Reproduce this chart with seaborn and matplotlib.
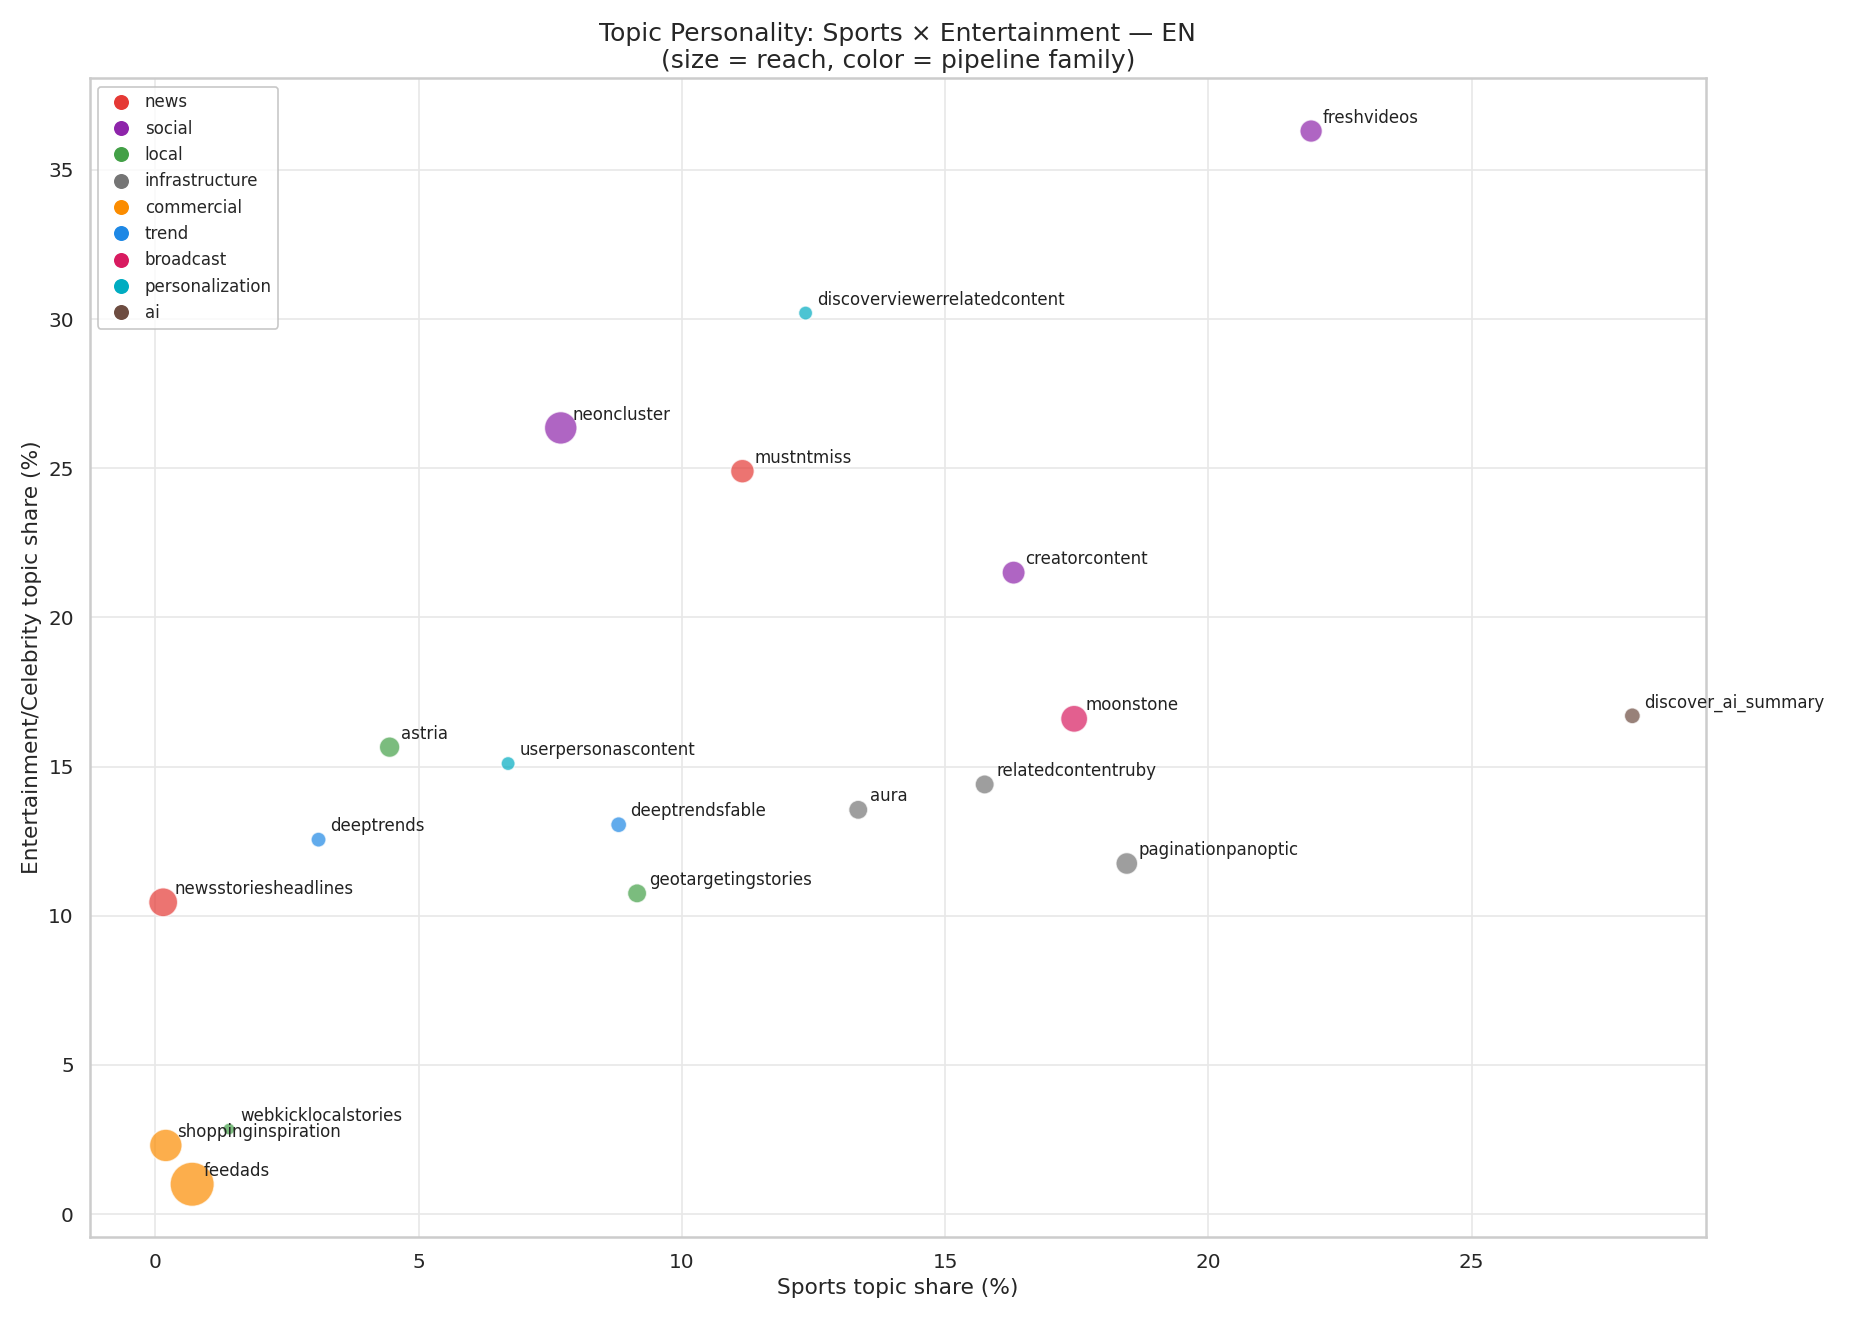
import matplotlib
matplotlib.use("Agg")
import matplotlib.pyplot as plt
import seaborn as sns
import pandas as pd
from matplotlib.lines import Line2D

names = ["freshvideos", "discoverviewerrelatedcontent", "neoncluster", "mustntmiss",
         "creatorcontent", "moonstone", "discover_ai_summary", "relatedcontentruby",
         "aura", "paginationpanoptic", "astria", "userpersonascontent", "deeptrends",
         "deeptrendsfable", "geotargetingstories", "newsstoriesheadlines",
         "webkicklocalstories", "shoppinginspiration", "feedads"]
sports = [21.95, 12.35, 7.7, 11.15, 16.3, 17.45, 28.05, 15.75, 13.35, 18.45,
          4.45, 6.7, 3.1, 8.8, 9.15, 0.15, 1.4, 0.2, 0.7]
entertainment = [36.3, 30.2, 26.35, 24.9, 21.5, 16.6, 16.7, 14.4, 13.55, 11.75,
                 15.65, 15.1, 12.55, 13.05, 10.75, 10.45, 2.85, 2.3, 1.0]
families = ["social", "personalization", "social", "news", "social", "broadcast", "ai",
            "infrastructure", "infrastructure", "infrastructure", "local",
            "personalization", "trend", "trend", "local", "news", "local",
            "commercial", "commercial"]
reach = [180, 70, 380, 200, 190, 260, 90, 130, 130, 170, 150, 70, 80, 90, 130,
         300, 50, 380, 700]

family_order = ["news", "social", "local", "infrastructure", "commercial", "trend",
                "broadcast", "personalization", "ai"]
family_colors = ["#e53935", "#8e24aa", "#43a047", "#757575", "#fb8c00", "#1e88e5",
                 "#d81b60", "#00acc1", "#6d4c41"]

df = pd.DataFrame({"name": names, "sports": sports, "ent": entertainment,
                   "family": families, "reach": reach})
palette = dict(zip(family_order, family_colors))

sns.set_theme(style="whitegrid")
fig, ax = plt.subplots(figsize=(15.45, 11.0), dpi=120)
sns.scatterplot(data=df, x="sports", y="ent", hue="family", palette=palette,
                size="reach", sizes=(50, 700), size_norm=(50, 700),
                alpha=0.7, edgecolor="white", linewidth=0.8, legend=False, ax=ax)
for _, r in df.iterrows():
    ax.annotate(r["name"], (r["sports"], r["ent"]), xytext=(7, 5),
                textcoords="offset points", fontsize=10, color="#222222")

handles = [Line2D([], [], marker="o", linestyle="", markersize=10,
                  markerfacecolor=c, markeredgecolor="white", label=f)
           for f, c in zip(family_order, family_colors)]
ax.legend(handles=handles, loc="upper left", fontsize=10, frameon=True,
          edgecolor="#bbbbbb", handletextpad=0.4)

ax.set_xlabel("Sports topic share (%)", fontsize=13)
ax.set_ylabel("Entertainment/Celebrity topic share (%)", fontsize=13)
ax.set_title("Topic Personality: Sports × Entertainment — EN\n(size = reach, color = pipeline family)",
             fontsize=15)
ax.grid(True, color="#e8e8e8")
for s in ax.spines.values():
    s.set_color("#cccccc")
    s.set_linewidth(1.5)
ax.tick_params(labelsize=12)
fig.tight_layout()
fig.savefig("out.png", dpi=120)
